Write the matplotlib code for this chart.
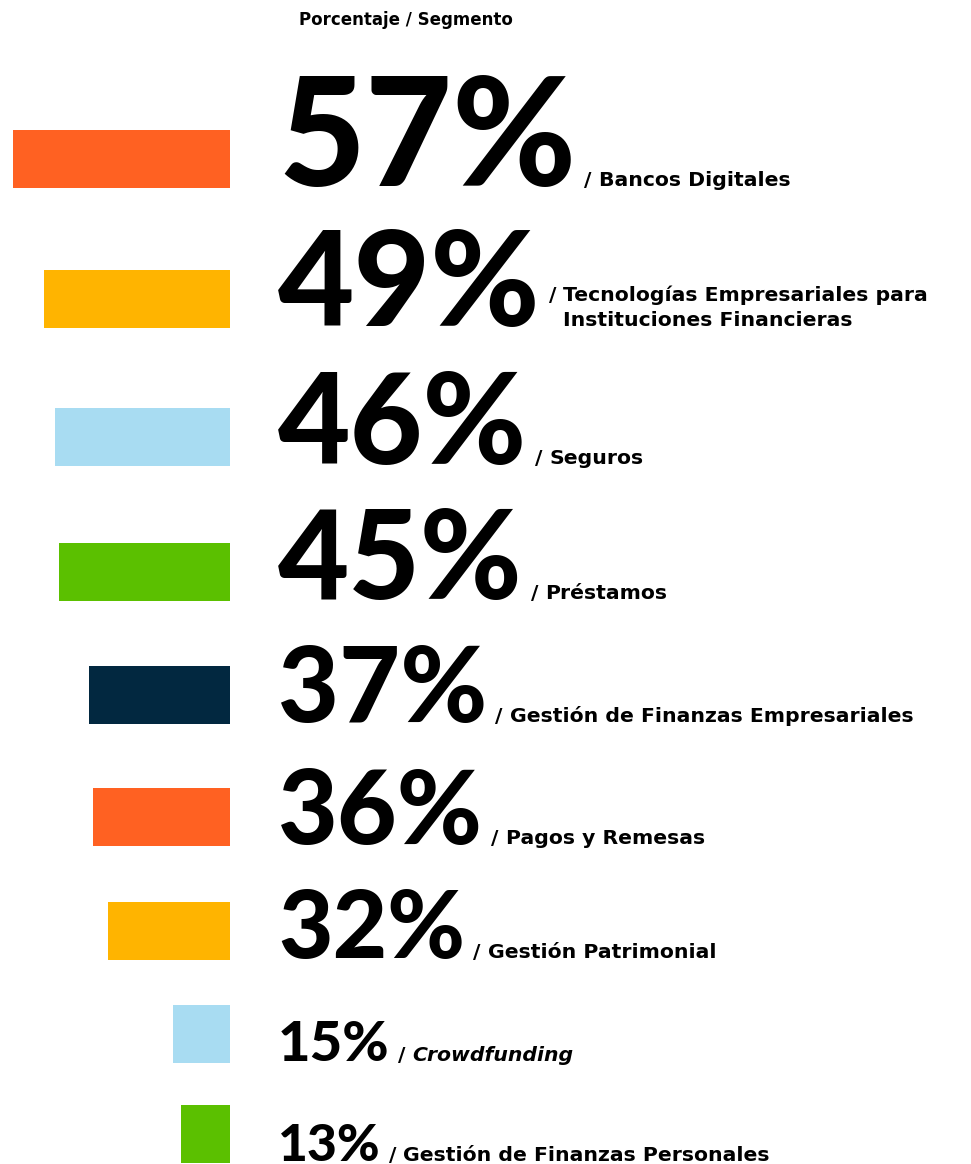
import matplotlib.pyplot as plt

values = [57, 49, 46, 45, 37, 36, 32, 15, 13]
segments = ["Bancos Digitales",
            "Tecnologías Empresariales para\nInstituciones Financieras",
            "Seguros", "Préstamos", "Gestión de Finanzas Empresariales",
            "Pagos y Remesas", "Gestión Patrimonial", "Crowdfunding",
            "Gestión de Finanzas Personales"]
italic = [False, False, False, False, False, False, False, True, False]
colors = ["#FF6122", "#FFB400", "#A8DCF2", "#5BC000", "#022840",
          "#FF6122", "#FFB400", "#A8DCF2", "#5BC000"]

# vertical bar centres in pixels (layout)
y_centers = [159, 299, 437, 572, 695, 817, 931, 1034, 1134]
bar_h = 58
px_per_pct = 3.8
bar_end_px = 230

W, H = 971, 1164
fig = plt.figure(figsize=(W / 100, H / 100), dpi=100)
ax = fig.add_axes([0, 0, 1, 1])
ax.set_xlim(-bar_end_px / px_per_pct, (W - bar_end_px) / px_per_pct)
ax.set_ylim(H, 0)
ax.axis("off")

num_font = "Lato"
lab_font = "DejaVu Sans"
lab_fs = 14.7
line_gap = 25

ax.barh(y_centers, [-v for v in values], height=bar_h, color=colors)

ax.text((299 - bar_end_px) / px_per_pct, 20, "Porcentaje / Segmento",
        fontsize=12, fontweight="bold", family=lab_font, va="center", ha="left")

x_num = (278 - bar_end_px) / px_per_pct
renderer = fig.canvas.get_renderer()
inv = ax.transData.inverted()

for v, seg, it, yc in zip(values, segments, italic, y_centers):
    base = yc + bar_h / 2 - 2
    cap_px = 16.7 + 1.64 * v
    fs = cap_px * 0.98
    t = ax.text(x_num, base, f"{v}%", fontsize=fs, fontweight="black",
                family=num_font, va="baseline", ha="left", color="black")
    bb = t.get_window_extent(renderer)
    lines = seg.split("\n")
    y0 = base - line_gap * (len(lines) - 1)
    x_sl = inv.transform((bb.x1 + 8, 0))[0]
    s = ax.text(x_sl, y0, "/ ", fontsize=lab_fs, fontweight="bold",
                family=lab_font, va="baseline", ha="left")
    sb = s.get_window_extent(renderer)
    x_lab = inv.transform((sb.x1, 0))[0]
    for i, line in enumerate(lines):
        ax.text(x_lab, y0 + line_gap * i, line, fontsize=lab_fs,
                fontweight="bold", family=lab_font,
                style="italic" if it else "normal", va="baseline", ha="left")

fig.savefig("out.png", dpi=100)
